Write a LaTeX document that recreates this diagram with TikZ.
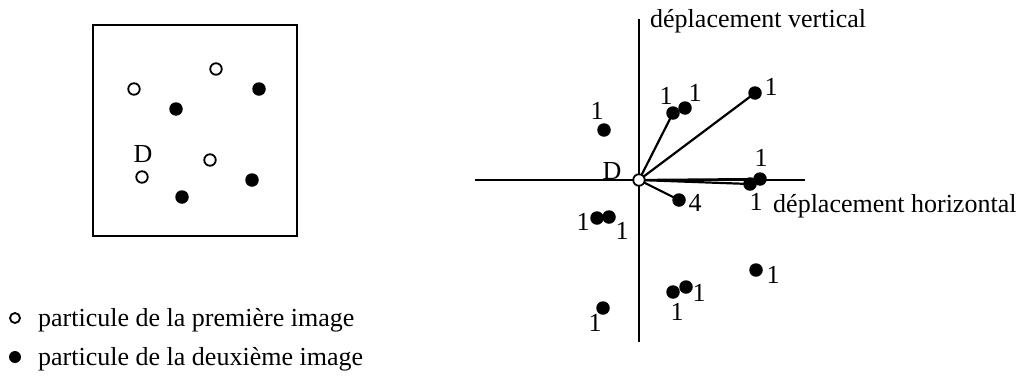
\documentclass[tikz,border=0pt]{standalone}
\usepackage{fontspec}
\setmainfont{Liberation Serif}
\begin{document}
\begin{tikzpicture}[x=1pt,y=-1pt,
  openp/.style={circle,draw,line width=1.8pt,fill=white,minimum size=11.5pt,inner sep=0pt},
  fullp/.style={circle,fill=black,minimum size=13.5pt,inner sep=0pt},
  lab/.style={font=\fontsize{26}{30}\selectfont,inner sep=0pt},
  txt/.style={font=\fontsize{26}{30}\selectfont,inner sep=0pt,anchor=base west},
  ln/.style={line width=2.2pt}]
\useasboundingbox (0,0) rectangle (1021,378);
% left frame
\draw[ln] (93,25) rectangle (297,236);
\node[openp] (a1) at (134,89) {};
\node[openp] (a2) at (216,69) {};
\node[openp] (a3) at (210,160) {};
\node[openp] (a4) at (142,177) {};
\node[fullp] (b1) at (259,89) {};
\node[fullp] (b2) at (176,109) {};
\node[fullp] (b3) at (252,180) {};
\node[fullp] (b4) at (182,197) {};
\node[lab] (dl) at (143,154) {D};
% legend
\node[openp,minimum size=10pt] (lo) at (15,318) {};
\node[txt] (lt1) at (38,326) {particule de la première image};
\node[fullp,minimum size=12pt] (lf) at (15,357) {};
\node[txt] (lt2) at (38,365) {particule de la deuxième image};
% axes
\coordinate (xl) at (475,180);
\coordinate (xr) at (805,180);
\coordinate (yt) at (639,19);
\coordinate (yb) at (639,342);
\draw[ln] (xl) -- (xr);
\draw[ln] (yt) -- (yb);
\node[txt] (tv) at (650,27) {déplacement vertical};
\node[txt] (th) at (773,212) {déplacement horizontal};
% displacement points
\node[fullp] (p1) at (673,113) {};
\node[fullp] (p2) at (685,108) {};
\node[fullp] (p3) at (755,93) {};
\node[fullp] (p4) at (604,130) {};
\node[fullp] (p5) at (760,179) {};
\node[fullp] (p6) at (750,184) {};
\node[fullp] (p7) at (679,200) {};
\node[fullp] (p8) at (597,218) {};
\node[fullp] (p9) at (609,217) {};
\node[fullp] (p10) at (756,270) {};
\node[fullp] (p11) at (673,292) {};
\node[fullp] (p12) at (686,287) {};
\node[fullp] (p13) at (603,308) {};
% connectors
\coordinate (oc) at (639,180);
\draw[ln] (oc) -- (p1.center);
\draw[ln] (oc) -- (p3.center);
\draw[ln] (oc) -- (p5.center);
\draw[ln] (oc) -- (p6.center);
\draw[ln] (oc) -- (p7.center);
\node[openp] (o) at (oc) {};
\node[lab] (dd) at (612,171) {D};
% labels
\node[lab] (l1) at (666,96) {1};
\node[lab] (l2) at (695,93) {1};
\node[lab] (l3) at (771,87) {1};
\node[lab] (l4) at (597,111) {1};
\node[lab] (l5) at (761,158) {1};
\node[lab] (l6) at (756,202) {1};
\node[lab] (l7) at (695,203) {4};
\node[lab] (l8) at (583,222) {1};
\node[lab] (l9) at (622,231) {1};
\node[lab] (l10) at (773,275) {1};
\node[lab] (l11) at (699,293) {1};
\node[lab] (l12) at (677,312) {1};
\node[lab] (l13) at (595,323) {1};
\end{tikzpicture}
\end{document}
